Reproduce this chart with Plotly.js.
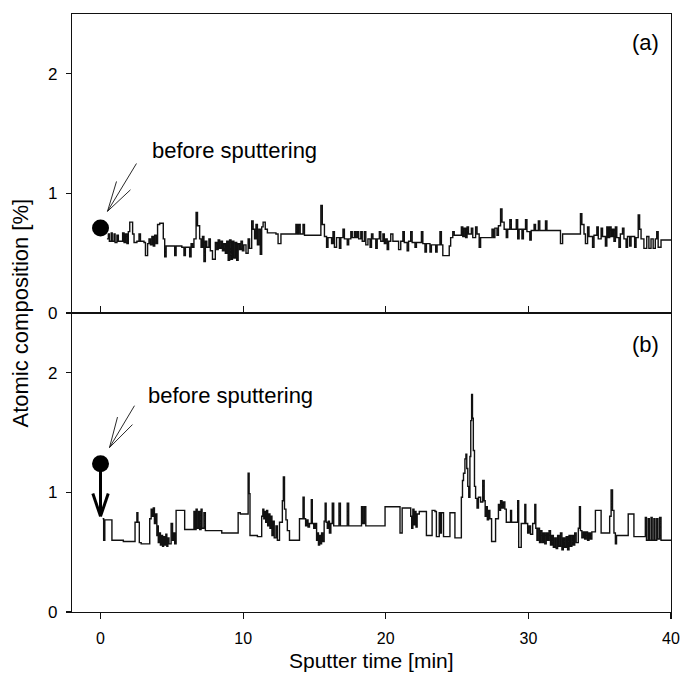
<!DOCTYPE html>
<html>
<head>
<meta charset="utf-8">
<script src="https://cdn.plot.ly/plotly-3.0.1.min.js"></script>
<style>html,body{margin:0;padding:0;background:#fff;}#chart{width:683px;height:673px;}</style>
</head>
<body>
<div id="chart"></div>
<script>
// Panel (a): step positions [min] and atomic composition [%]
var topX = [0.45,0.55,0.62,0.75,0.82,0.95,1.02,1.15,1.25,1.40,1.55,1.65,1.75,1.85,1.95,2.05,2.25,2.35,2.55,2.70,2.80,3.05,3.15,3.30,3.40,3.50,3.60,3.70,3.80,3.90,4.00,4.15,4.40,4.50,4.60,5.00,5.20,5.30,5.70,5.85,5.95,6.25,6.35,6.45,6.55,6.70,6.80,6.95,7.05,7.15,7.25,7.35,7.45,7.60,7.70,7.85,8.05,8.15,8.25,8.35,8.45,8.55,8.65,8.75,8.85,8.95,9.05,9.15,9.25,9.35,9.45,9.55,9.65,9.75,9.85,9.95,10.05,10.20,10.35,10.45,10.60,10.70,10.80,10.90,11.00,11.10,11.20,11.30,11.40,11.55,11.70,12.30,12.45,12.65,13.70,13.80,13.90,14.00,14.20,14.30,15.45,15.55,15.70,15.85,15.95,16.20,16.30,16.40,16.55,16.75,16.85,17.00,17.10,17.30,17.40,17.55,17.65,17.80,17.90,18.00,18.10,18.25,18.35,18.50,18.60,18.75,18.90,19.00,19.10,19.30,19.40,19.55,19.65,19.80,19.90,20.00,20.10,20.20,20.35,20.50,20.90,21.05,21.20,21.30,21.50,21.60,21.75,21.85,22.05,22.15,22.50,22.60,22.75,22.85,23.10,23.20,23.50,23.60,23.80,23.90,24.00,24.45,24.55,24.70,24.80,25.30,25.40,25.50,25.60,25.70,25.80,26.00,26.10,26.30,26.40,26.55,26.65,27.45,27.55,27.65,27.80,27.90,28.05,28.15,28.30,28.45,28.55,28.70,28.80,29.00,29.15,29.25,29.35,29.55,29.65,29.80,29.90,30.10,30.20,30.40,30.50,30.70,30.80,31.20,31.30,31.80,32.25,32.40,33.50,33.65,33.75,33.90,34.00,34.15,34.25,34.50,34.60,34.80,34.90,35.10,35.20,35.40,35.50,35.60,35.70,35.80,35.90,36.00,36.10,36.20,36.35,36.45,36.60,36.70,36.85,36.95,37.10,37.20,37.45,37.55,37.70,37.80,37.90,38.10,38.30,38.45,38.60,38.75,38.90,39.00,39.10,39.30,40.00];
var topY = [0.62,0.66,0.60,0.67,0.60,0.66,0.59,0.65,0.60,0.60,0.67,0.59,0.66,0.58,0.68,0.76,0.66,0.59,0.60,0.66,0.60,0.59,0.48,0.58,0.62,0.57,0.64,0.56,0.65,0.58,0.74,0.75,0.62,0.47,0.56,0.56,0.48,0.56,0.55,0.48,0.55,0.47,0.58,0.55,0.62,0.84,0.73,0.62,0.55,0.64,0.43,0.60,0.55,0.62,0.52,0.45,0.59,0.53,0.61,0.54,0.60,0.52,0.58,0.50,0.60,0.44,0.61,0.45,0.60,0.46,0.59,0.44,0.58,0.53,0.60,0.52,0.57,0.50,0.62,0.54,0.77,0.70,0.62,0.74,0.57,0.70,0.49,0.72,0.76,0.70,0.67,0.66,0.58,0.66,0.74,0.66,0.74,0.66,0.74,0.65,0.90,0.74,0.64,0.55,0.63,0.58,0.68,0.55,0.63,0.54,0.63,0.70,0.62,0.57,0.62,0.68,0.63,0.68,0.63,0.68,0.62,0.68,0.60,0.68,0.57,0.62,0.55,0.66,0.62,0.54,0.62,0.68,0.60,0.66,0.58,0.62,0.53,0.60,0.66,0.60,0.53,0.60,0.68,0.59,0.52,0.60,0.68,0.59,0.55,0.59,0.68,0.58,0.51,0.58,0.51,0.57,0.51,0.57,0.68,0.57,0.48,0.56,0.63,0.68,0.65,0.72,0.64,0.71,0.63,0.72,0.66,0.71,0.63,0.72,0.66,0.55,0.63,0.70,0.63,0.71,0.65,0.73,0.87,0.76,0.70,0.63,0.70,0.78,0.70,0.70,0.78,0.62,0.70,0.62,0.70,0.78,0.68,0.61,0.69,0.74,0.69,0.77,0.69,0.77,0.69,0.69,0.58,0.66,0.66,0.83,0.74,0.66,0.58,0.72,0.64,0.55,0.65,0.72,0.62,0.71,0.64,0.56,0.72,0.63,0.72,0.64,0.70,0.60,0.72,0.63,0.55,0.66,0.71,0.62,0.55,0.64,0.56,0.64,0.55,0.63,0.82,0.70,0.62,0.54,0.64,0.54,0.62,0.54,0.62,0.68,0.55,0.61,0.61];

// Panel (b)
var botX = [0.15,0.22,0.30,0.80,1.60,2.42,2.55,2.62,2.72,2.85,3.45,3.55,3.62,3.70,3.78,3.88,3.95,4.00,4.05,4.12,4.20,4.28,4.35,4.42,4.50,4.58,4.65,4.72,4.80,4.95,5.05,5.12,5.20,5.30,5.90,6.55,6.62,6.70,6.78,6.88,6.95,7.05,7.12,7.25,7.35,8.50,9.65,9.80,10.35,10.42,10.48,11.00,11.30,11.38,11.45,11.52,11.58,11.65,11.72,11.80,11.88,11.95,12.02,12.10,12.18,12.30,12.40,12.55,12.75,12.82,12.90,13.00,13.10,13.25,13.95,14.20,14.28,14.38,14.45,14.55,14.65,14.78,14.85,14.95,15.05,15.15,15.22,15.28,15.36,15.42,15.50,15.58,15.68,15.75,15.82,15.90,15.98,16.05,16.15,16.25,16.35,16.72,16.82,17.30,17.40,18.30,18.40,18.50,18.60,19.95,21.00,21.15,21.75,21.82,21.90,21.98,22.05,22.12,22.20,22.35,22.85,23.25,23.45,23.55,23.75,23.82,23.90,24.05,24.50,24.85,25.30,25.38,25.45,25.55,25.62,25.68,25.75,25.82,25.90,25.96,26.02,26.08,26.14,26.22,26.30,26.40,26.50,26.65,26.80,26.90,26.97,27.05,27.12,27.20,27.30,27.42,27.70,27.90,27.98,28.05,28.15,28.25,28.35,28.45,28.75,28.82,29.25,29.32,29.50,29.75,29.82,29.95,30.05,30.15,30.30,30.45,30.52,30.60,30.68,30.78,30.85,30.95,31.05,31.15,31.25,31.35,31.45,31.55,31.65,31.75,31.85,31.95,32.05,32.15,32.25,32.35,32.45,32.55,32.65,32.75,32.85,32.95,33.05,33.15,33.25,33.35,33.50,33.58,33.65,33.75,33.85,33.95,34.05,34.15,34.25,34.35,34.45,34.70,35.10,35.70,35.80,35.90,36.00,36.10,36.18,37.00,37.40,38.20,38.28,38.40,38.48,38.60,38.68,38.80,38.88,39.00,39.08,39.20,39.30,40.00];
var botY = [0.78,0.60,0.77,0.60,0.59,0.75,0.83,0.75,0.58,0.57,0.78,0.86,0.80,0.87,0.74,0.82,0.64,0.72,0.58,0.66,0.56,0.64,0.55,0.63,0.56,0.65,0.55,0.62,0.57,0.74,0.60,0.66,0.57,0.85,0.69,0.84,0.69,0.86,0.70,0.84,0.69,0.86,0.70,0.83,0.68,0.66,0.83,0.82,1.16,0.99,0.64,0.63,0.80,0.86,0.78,0.84,0.75,0.85,0.72,0.82,0.70,0.80,0.64,0.76,0.62,0.72,0.60,0.75,0.93,1.13,0.86,0.77,0.68,0.60,0.78,0.96,0.78,0.72,0.77,0.71,0.74,0.94,0.74,0.70,0.74,0.60,0.66,0.56,0.64,0.57,0.66,0.59,0.76,0.91,0.75,0.70,0.76,0.66,0.74,0.91,0.72,0.91,0.72,0.91,0.72,0.88,0.74,0.88,0.72,0.88,0.66,0.87,0.80,0.70,0.86,0.73,0.84,0.71,0.82,0.84,0.64,0.85,0.84,0.63,0.83,0.66,0.83,0.63,0.83,0.62,0.96,1.10,1.16,1.28,1.32,1.20,1.05,0.96,1.30,1.60,1.82,1.62,1.35,1.05,0.95,0.87,0.96,0.92,1.10,0.93,0.80,0.88,0.77,0.85,0.78,0.59,0.78,0.90,0.85,0.93,0.87,0.92,0.86,0.75,0.85,0.75,0.93,0.54,0.74,0.90,0.74,0.66,0.72,0.65,0.74,0.90,0.70,0.60,0.70,0.58,0.68,0.58,0.66,0.57,0.66,0.60,0.68,0.56,0.64,0.54,0.62,0.53,0.64,0.55,0.66,0.52,0.62,0.54,0.63,0.52,0.64,0.55,0.64,0.56,0.66,0.58,0.70,0.88,0.68,0.62,0.67,0.61,0.67,0.60,0.66,0.61,0.67,0.85,0.66,0.80,1.02,0.85,0.66,0.57,0.64,0.82,0.63,0.79,0.60,0.78,0.60,0.79,0.60,0.78,0.60,0.78,0.61,0.79,0.60,0.60];

// Initial values before sputtering
var startX = [0];
var startTop = [0.71];
var startBot = [1.24];

var xTicks = [0, 10, 20, 30, 40];
var yTicks = [0, 1, 2];
var FONT = 'Liberation Sans, Arial, sans-serif';
var ink = '#111';

var traces = [
  {x: topX, y: topY, xaxis: 'x', yaxis: 'y', type: 'scatter', mode: 'lines',
   line: {color: ink, width: 1.4, shape: 'hv'}, hoverinfo: 'skip'},
  {x: botX, y: botY, xaxis: 'x2', yaxis: 'y2', type: 'scatter', mode: 'lines',
   line: {color: ink, width: 1.4, shape: 'hv'}, hoverinfo: 'skip'},
  {x: startX, y: startTop, xaxis: 'x', yaxis: 'y', type: 'scatter', mode: 'markers',
   marker: {color: '#000', size: 17}, hoverinfo: 'skip'},
  {x: startX, y: startBot, xaxis: 'x2', yaxis: 'y2', type: 'scatter', mode: 'markers',
   marker: {color: '#000', size: 17}, hoverinfo: 'skip'}
];

var axBase = {
  range: [-2, 40], showgrid: false, zeroline: false, showline: true, mirror: true,
  linecolor: ink, linewidth: 1.2, tickcolor: ink, tickwidth: 1.2,
  tickvals: xTicks, tickfont: {family: FONT, size: 16, color: '#000'}
};
var yBase = {
  range: [0, 2.5], showgrid: false, zeroline: false, showline: true, mirror: true,
  linecolor: ink, linewidth: 1.2, tickcolor: ink, tickwidth: 1.2,
  tickvals: yTicks, ticks: 'outside', ticklen: 5, ticklabelstandoff: 5,
  tickfont: {family: FONT, size: 17, color: '#000'}
};

function thin(x0, y0, x1, y1, xr, yr) {
  return {type: 'line', xref: xr, yref: yr, x0: x0, y0: y0, x1: x1, y1: y1,
          line: {color: ink, width: 0.9}};
}
function thick(x0, y0, x1, y1, xr, yr) {
  return {type: 'line', xref: xr, yref: yr, x0: x0, y0: y0, x1: x1, y1: y1,
          line: {color: '#000', width: 3}};
}

var layout = {
  width: 683, height: 673,
  margin: {l: 72, r: 12, t: 14, b: 61},
  paper_bgcolor: '#fff', plot_bgcolor: '#fff',
  showlegend: false,
  font: {family: FONT, color: '#000'},
  xaxis: Object.assign({}, axBase, {anchor: 'y', ticks: 'inside', ticklen: 7, showticklabels: false}),
  yaxis: Object.assign({}, yBase, {domain: [0.5, 1], anchor: 'x'}),
  xaxis2: Object.assign({}, axBase, {anchor: 'y2', ticks: 'outside', ticklen: 6, ticklabelstandoff: 6}),
  yaxis2: Object.assign({}, yBase, {domain: [0, 0.5], anchor: 'x2'}),
  shapes: [
    thin(2.52, 1.25, 0.49, 0.85, 'x', 'y'),
    thin(1.12, 1.10, 0.49, 0.85, 'x', 'y'),
    thin(2.10, 1.03, 0.49, 0.85, 'x', 'y'),
    thin(2.38, 1.725, 0.63, 1.375, 'x2', 'y2'),
    thin(1.19, 1.63, 0.63, 1.375, 'x2', 'y2'),
    thin(2.24, 1.567, 0.63, 1.375, 'x2', 'y2'),
    thick(0, 1.24, 0, 0.80, 'x2', 'y2'),
    thick(-0.54, 0.99, 0, 0.80, 'x2', 'y2'),
    thick(0.54, 0.99, 0, 0.80, 'x2', 'y2')
  ],
  annotations: [
    {text: 'before sputtering', xref: 'x', yref: 'y', x: 3.5, y: 1.36, xanchor: 'left', yanchor: 'middle',
     showarrow: false, font: {family: FONT, size: 22, color: '#000'}},
    {text: 'before sputtering', xref: 'x2', yref: 'y2', x: 3.22, y: 1.81, xanchor: 'left', yanchor: 'middle',
     showarrow: false, font: {family: FONT, size: 22, color: '#000'}},
    {text: '(a)', xref: 'x', yref: 'y', x: 38.2, y: 2.26, xanchor: 'center', yanchor: 'middle',
     showarrow: false, font: {family: FONT, size: 22, color: '#000'}},
    {text: '(b)', xref: 'x2', yref: 'y2', x: 38.2, y: 2.24, xanchor: 'center', yanchor: 'middle',
     showarrow: false, font: {family: FONT, size: 22, color: '#000'}},
    {text: 'Atomic composition [%]', xref: 'paper', yref: 'paper', x: -0.086, y: 0.5,
     xanchor: 'center', yanchor: 'middle', textangle: -90, showarrow: false,
     font: {family: FONT, size: 22, color: '#000'}},
    {text: 'Sputter time [min]', xref: 'paper', yref: 'paper', x: 0.5, y: -0.0815,
     xanchor: 'center', yanchor: 'middle', showarrow: false,
     font: {family: FONT, size: 21, color: '#000'}}
  ]
};

Plotly.newPlot('chart', traces, layout, {displayModeBar: false, staticPlot: true});
</script>
</body>
</html>
